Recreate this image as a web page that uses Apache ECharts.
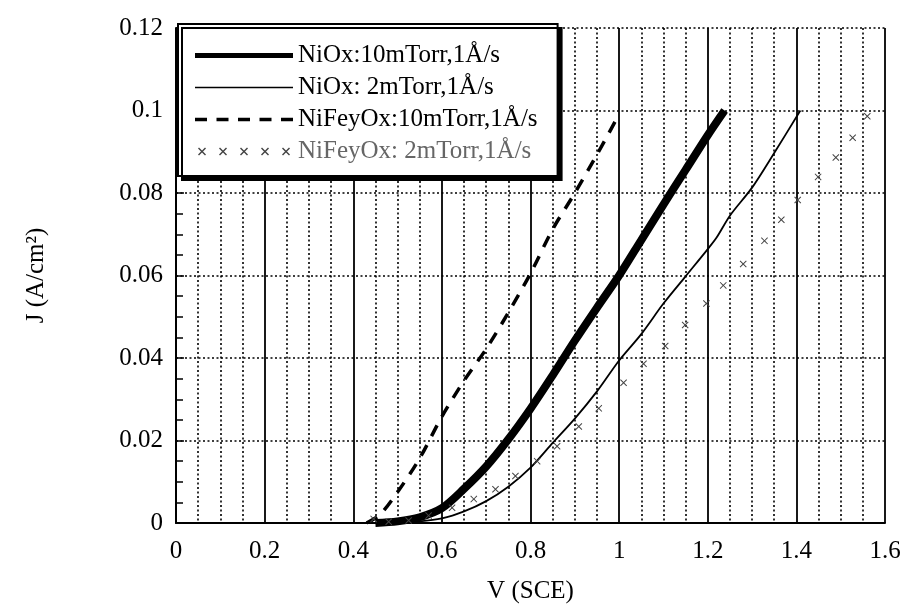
<!DOCTYPE html>
<html>
<head>
<meta charset="utf-8">
<script src="https://cdn.jsdelivr.net/npm/echarts@6/dist/echarts.min.js"></script>
<style>
  html, body { margin: 0; padding: 0; background: #fff; }
  #chart { width: 904px; height: 609px; }
</style>
</head>
<body>
<div id="chart"></div>
<script>
// * series names (legend)
const seriesNames = [
    'NiOx:10mTorr,1Å/s',
    'NiOx: 2mTorr,1Å/s',
    'NiFeyOx:10mTorr,1Å/s',
    'NiFeyOx: 2mTorr,1Å/s'
];

// * NiOx 10mTorr (thick solid)
const niox10V = [0.45, 0.50, 0.55, 0.60, 0.65, 0.70, 0.75, 0.80, 0.85, 0.90, 0.95, 1.00, 1.05, 1.10, 1.15, 1.20, 1.238];
const niox10J = [0, 0.0004, 0.0014, 0.0036, 0.0083, 0.0137, 0.0203, 0.0277, 0.0358, 0.0442, 0.0522, 0.060, 0.0686, 0.0772, 0.0856, 0.094, 0.1];

// * NiOx 2mTorr (thin solid)
const niox2V = [0.45, 0.50, 0.55, 0.60, 0.65, 0.70, 0.75, 0.80, 0.85, 0.90, 0.95, 1.00, 1.05, 1.10, 1.15, 1.20, 1.22, 1.25, 1.30, 1.35, 1.409];
const niox2J = [0, 0.0002, 0.0004, 0.0011, 0.0028, 0.0053, 0.0088, 0.0134, 0.0194, 0.0253, 0.0319, 0.0394, 0.0458, 0.0532, 0.0598, 0.0664, 0.0692, 0.0745, 0.0813, 0.0897, 0.1];

// * NiFeyOx 10mTorr (dashed)
const nifeox10V = [0.43, 0.46, 0.50, 0.55, 0.60, 0.65, 0.70, 0.75, 0.80, 0.85, 0.90, 0.95, 0.997];
const nifeox10J = [0, 0.002, 0.0075, 0.0157, 0.0258, 0.0345, 0.0422, 0.051, 0.0605, 0.0712, 0.080, 0.0893, 0.0985];

// * NiFeyOx 2mTorr (markers)
const nifeox2V = [0.446, 0.48, 0.525, 0.57, 0.623, 0.672, 0.721, 0.766, 0.815, 0.86, 0.909, 0.954, 1.01, 1.055, 1.104, 1.149, 1.197, 1.235, 1.28, 1.328, 1.366, 1.403, 1.449, 1.489, 1.527, 1.56];
const nifeox2J = [0.001, 0.0003, 0.0006, 0.0018, 0.0037, 0.0058, 0.0082, 0.0114, 0.015, 0.0186, 0.0234, 0.0278, 0.034, 0.0386, 0.0429, 0.048, 0.0532, 0.0576, 0.0628, 0.0684, 0.0735, 0.0783, 0.0839, 0.0886, 0.0934, 0.0986];

// * axes
const xMin = 0, xMax = 1.6, xStep = 0.2;
const yMin = 0, yMax = 0.12, yStep = 0.02;

const serif = "'Liberation Serif', 'Times New Roman', serif";
const markColor = '#444';
const crossSymbol = 'path://M0,1 L1,0 L5,4 L9,0 L10,1 L6,5 L10,9 L9,10 L5,6 L1,10 L0,9 L4,5 Z';

function pairs(xs, ys) {
    return xs.map((x, i) => [x, ys[i]]);
}

// * legend icons (98 wide)
function barIcon(h) {
    return `path://M0,0 L98,0 L98,${h} L0,${h} Z`;
}
function dashIcon(starts, len, h) {
    return 'path://' + starts.map(s => `M${s},0 L${s + len},0 L${s + len},${h} L${s},${h} Z`).join(' ');
}
function crossRow(centers) {
    return 'path://' + centers.map(c => {
        let o = c - 4;
        return `M${o},1 L${o + 1},0 L${o + 4},3 L${o + 7},0 L${o + 8},1 L${o + 5},4 L${o + 8},7 L${o + 7},8 L${o + 4},5 L${o + 1},8 L${o},7 L${o + 3},4 Z`;
    }).join(' ');
}

let option = {
    animation: false,
    backgroundColor: '#fff',
    grid: { left: 176, right: 19, top: 28, bottom: 82 },
    legend: {
        orient: 'vertical',
        left: 178,
        top: 24,
        padding: [19, 20, 12, 17],
        itemGap: 7,
        itemWidth: 98,
        itemHeight: 8,
        backgroundColor: '#fff',
        borderColor: '#000',
        borderWidth: 2,
        shadowColor: '#000',
        shadowBlur: 0,
        shadowOffsetX: 4,
        shadowOffsetY: 4,
        textStyle: { fontFamily: serif, fontSize: 25, color: '#000' },
        data: [
            { name: seriesNames[0], icon: barIcon(5) },
            { name: seriesNames[1], icon: barIcon(1.6) },
            { name: seriesNames[2], icon: dashIcon([0, 21.5, 43, 64.5, 86], 12, 3.5) },
            { name: seriesNames[3], icon: crossRow([4, 25, 46, 67, 88]), textStyle: { color: '#666' } }
        ]
    },
    xAxis: {
        type: 'value',
        min: xMin,
        max: xMax,
        interval: xStep,
        name: 'V (SCE)',
        nameLocation: 'middle',
        nameGap: 56,
        nameTextStyle: { fontFamily: serif, fontSize: 25, color: '#000' },
        axisLine: { show: true, onZero: false, lineStyle: { color: '#000', width: 2 } },
        axisTick: { show: false },
        axisLabel: { fontFamily: serif, fontSize: 25, color: '#000', margin: 16 },
        splitLine: { show: true, lineStyle: { color: '#000', width: 1.8 } },
        minorTick: { show: false, splitNumber: 4 },
        minorSplitLine: { show: true, lineStyle: { color: '#000', width: 1.6, type: [2, 2.5] } }
    },
    yAxis: {
        type: 'value',
        min: yMin,
        max: yMax,
        interval: yStep,
        name: 'J (A/cm²)',
        nameLocation: 'middle',
        nameGap: 127,
        nameTextStyle: { fontFamily: serif, fontSize: 25, color: '#000' },
        axisLine: { show: true, onZero: false, lineStyle: { color: '#000', width: 2 } },
        axisTick: { show: true, inside: true, length: 8, lineStyle: { color: '#000', width: 1.5 } },
        minorTick: { show: true, splitNumber: 4, length: 7, lineStyle: { color: '#000', width: 1.5 } },
        axisLabel: { fontFamily: serif, fontSize: 25, color: '#000', margin: 13 },
        splitLine: { show: true, lineStyle: { color: '#000', width: 1.6, type: [2, 2.5] } }
    },
    series: [
        {
            name: seriesNames[0],
            type: 'line',
            data: pairs(niox10V, niox10J),
            symbol: 'none',
            smooth: 0.3,
            color: '#000',
            lineStyle: { color: '#000', width: 8 },
            z: 5
        },
        {
            name: seriesNames[1],
            type: 'line',
            data: pairs(niox2V, niox2J),
            symbol: 'none',
            smooth: 0.3,
            color: '#000',
            lineStyle: { color: '#000', width: 1.8 },
            z: 5
        },
        {
            name: seriesNames[2],
            type: 'line',
            data: pairs(nifeox10V, nifeox10J),
            symbol: 'none',
            smooth: 0.3,
            color: '#000',
            lineStyle: { color: '#000', width: 3.5, type: [12, 10] },
            z: 5
        },
        {
            name: seriesNames[3],
            type: 'line',
            data: pairs(nifeox2V, nifeox2J),
            symbol: crossSymbol,
            symbolSize: 7,
            color: markColor,
            itemStyle: { color: markColor },
            lineStyle: { width: 0, opacity: 0 },
            z: 5
        }
    ]
};

let echartsInstance = echarts.init(document.getElementById('chart'), null, { renderer: 'canvas' });
echartsInstance.setOption(option);
</script>
</body>
</html>
